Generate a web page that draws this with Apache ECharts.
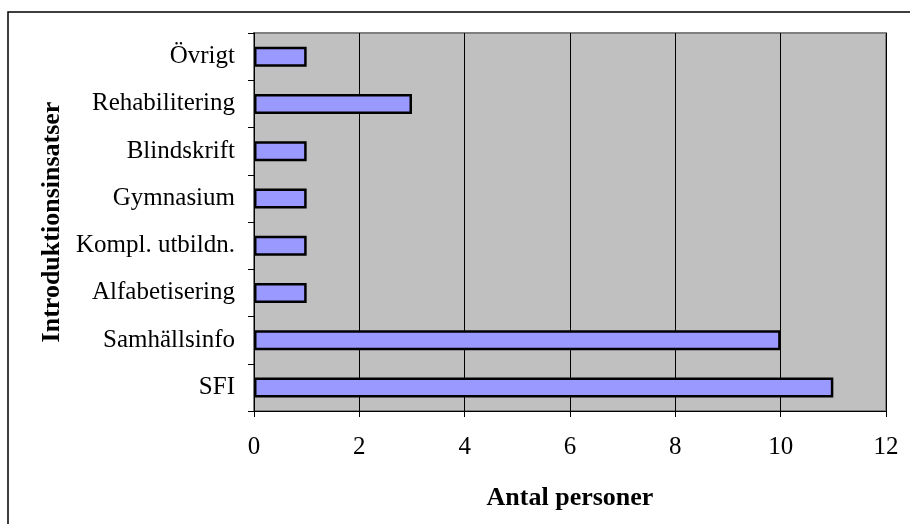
<!DOCTYPE html>
<html>
<head>
<meta charset="utf-8">
<script src="https://cdn.jsdelivr.net/npm/echarts@6/dist/echarts.min.js"></script>
<style>
  html, body { margin: 0; padding: 0; background: #fff; }
  #chart { width: 910px; height: 524px; }
</style>
</head>
<body>
<div id="chart"></div>
<script>
// bottom-to-top order, as the category axis draws them
const categories = ['SFI', 'Samhällsinfo', 'Alfabetisering', 'Kompl. utbildn.', 'Gymnasium', 'Blindskrift', 'Rehabilitering', 'Övrigt'];
const antal = [11, 10, 1, 1, 1, 1, 3, 1];

const font = '"Liberation Serif", "Times New Roman", serif';

const chart = echarts.init(document.getElementById('chart'), null, { renderer: 'canvas' });

chart.setOption({
  animation: false,
  textStyle: { fontFamily: font },
  graphic: [
    {
      type: 'rect',
      shape: { x: 8, y: 12, width: 940, height: 540 },
      style: { fill: 'none', stroke: '#000', lineWidth: 1.5 },
      silent: true
    }
  ],
  grid: {
    left: 254, right: 24, top: 33, bottom: 113,
    show: true,
    backgroundColor: '#C0C0C0',
    borderColor: '#808080',
    borderWidth: 2
  },
  xAxis: {
    type: 'value',
    min: 0,
    max: 12,
    interval: 2,
    name: 'Antal personer',
    nameLocation: 'middle',
    nameGap: 74,
    nameTextStyle: { fontFamily: font, fontSize: 26, fontWeight: 'bold', color: '#000' },
    axisLine: { show: true, lineStyle: { color: '#000', width: 1 } },
    axisTick: { show: true, length: 6, lineStyle: { color: '#000' } },
    axisLabel: { fontFamily: font, fontSize: 25, color: '#000', margin: 24 },
    splitLine: { show: true, lineStyle: { color: '#000', width: 1 } }
  },
  yAxis: {
    type: 'category',
    data: categories,
    name: 'Introduktionsinsatser',
    nameLocation: 'middle',
    nameGap: 187,
    nameRotate: 90,
    nameTextStyle: { fontFamily: font, fontSize: 26, fontWeight: 'bold', color: '#000' },
    axisLine: { show: true, lineStyle: { color: '#000', width: 1 } },
    axisTick: { show: true, length: 6, alignWithLabel: false, lineStyle: { color: '#000' } },
    axisLabel: { fontFamily: font, fontSize: 25, color: '#000', margin: 19 },
    splitLine: { show: false }
  },
  series: [
    {
      type: 'bar',
      data: antal,
      barWidth: 20,
      itemStyle: { color: '#9999FF', borderColor: '#000', borderWidth: 2.5 }
    }
  ]
});
</script>
</body>
</html>
